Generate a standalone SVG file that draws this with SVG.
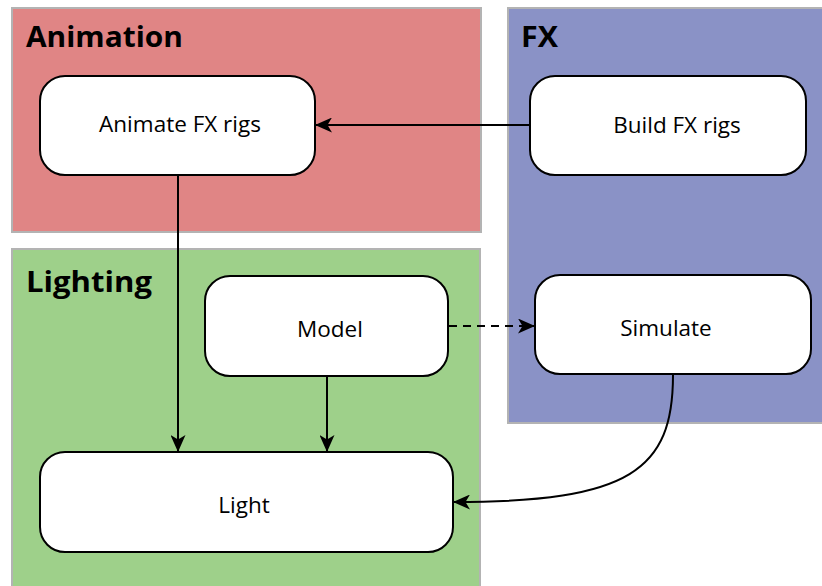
<svg xmlns="http://www.w3.org/2000/svg" width="822" height="586" viewBox="0 0 822 586">
<style>
.cl{stroke:#b3b3b3;stroke-width:2}
.title{font-family:"Open Sans","Noto Sans",sans-serif;font-weight:bold;font-size:29px;fill:#000}
.node rect{fill:#fff;stroke:#000;stroke-width:2}
.node text{font-family:"Open Sans","Noto Sans",sans-serif;font-size:22.5px;fill:#000;text-anchor:middle}
.edge{fill:none;stroke:#000;stroke-width:2}
</style>
<defs>
<marker id="arr" viewBox="0 0 17 15" refX="16" refY="7.5" markerWidth="17" markerHeight="15" markerUnits="userSpaceOnUse" orient="auto">
<path d="M0,0 L17,7.5 L0,15 L4.5,7.5 Z" fill="#000"/>
</marker>
</defs>
<rect width="822" height="586" fill="#fff"/>
<g id="cluster-animation">
<rect class="cl" x="12" y="8" width="469" height="224" fill="#e08585"/>
<text class="title" x="26" y="47" textLength="157" lengthAdjust="spacingAndGlyphs">Animation</text>
</g>
<g id="cluster-fx">
<rect class="cl" x="508" y="8" width="320" height="415" fill="#8a92c6"/>
<text class="title" x="521" y="47" textLength="37" lengthAdjust="spacingAndGlyphs">FX</text>
</g>
<g id="cluster-lighting">
<rect class="cl" x="12" y="249" width="468" height="345" fill="#9ed08a"/>
<text class="title" x="26" y="292" textLength="126" lengthAdjust="spacingAndGlyphs">Lighting</text>
</g>
<g id="edges">
<path class="edge" d="M530,125 L316,125" marker-end="url(#arr)"/>
<path class="edge" d="M178,175 L178,451" marker-end="url(#arr)"/>
<path class="edge" d="M327,376 L327,451" marker-end="url(#arr)"/>
<path class="edge" d="M449,326 L534,326" stroke-dasharray="8,6" marker-end="url(#arr)"/>
<path class="edge" d="M673,375 C673,470 630,502 454,502" marker-end="url(#arr)"/>
</g>
<g id="node-animate" class="node">
<rect x="40" y="76" width="275" height="99" rx="25"/>
<text x="180" y="132">Animate FX rigs</text>
</g>
<g id="node-build" class="node">
<rect x="530" y="76" width="276" height="99" rx="25"/>
<text x="677" y="133">Build FX rigs</text>
</g>
<g id="node-model" class="node">
<rect x="205" y="276" width="243" height="100" rx="25"/>
<text x="330" y="337">Model</text>
</g>
<g id="node-simulate" class="node">
<rect x="535" y="275" width="276" height="99" rx="25"/>
<text x="666" y="336">Simulate</text>
</g>
<g id="node-light" class="node">
<rect x="40" y="452" width="413" height="100" rx="25"/>
<text x="244" y="513">Light</text>
</g>
</svg>
